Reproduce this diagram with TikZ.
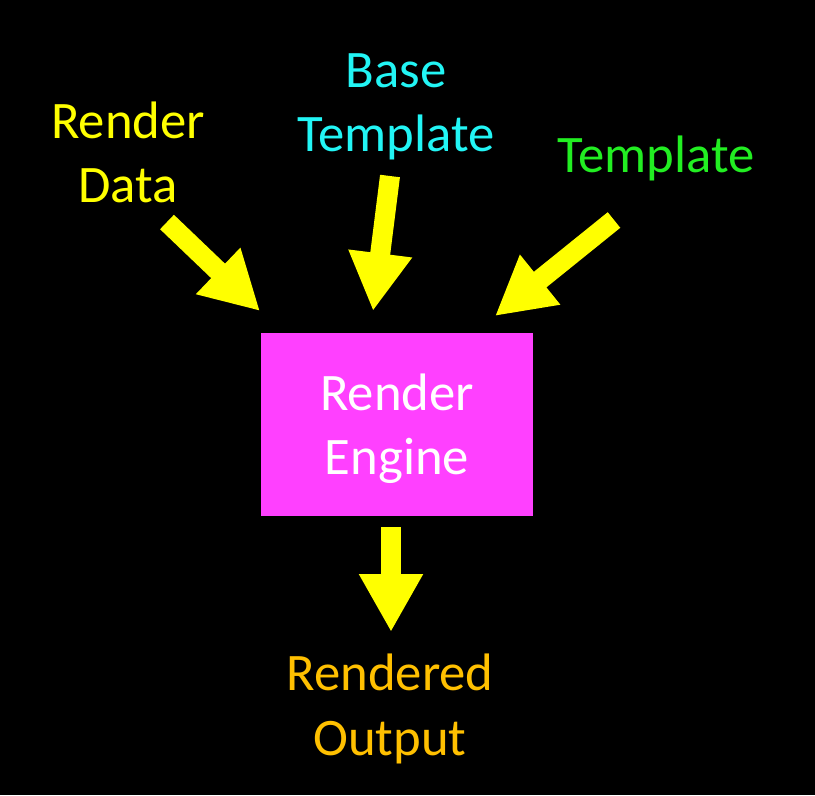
\documentclass[tikz,border=0pt]{standalone}
\usepackage{fontspec}
\setmainfont{Carlito}
\usepackage{tikz}
\usetikzlibrary{arrows.meta}
\definecolor{engine}{HTML}{FF40FF}
\definecolor{datayellow}{HTML}{FFFF00}
\definecolor{basecyan}{HTML}{22F5F5}
\definecolor{tplgreen}{HTML}{22EE22}
\definecolor{outorange}{HTML}{FFC000}

\begin{document}
\begin{tikzpicture}[x=0.02cm,y=-0.02cm,font=\fontsize{30}{36.5}\selectfont,
  label/.style={align=center,inner sep=0pt},
  bigarrow/.style={datayellow,line width=0.4cm,-{Triangle[width=1.2cm,length=1.16cm]}}]
\fill[black] (0,0) rectangle (815,795);
\useasboundingbox (0,0) rectangle (815,795);
\node [fill=engine,minimum width=272*0.02cm,minimum height=183*0.02cm,text=white,align=center,text depth=0pt] (engine) at (397,424.5) {Render\\Engine};
\node [label,text=datayellow] (data) at (128,152) {Render\\Data};
\node [label,text=basecyan] (base) at (396,107) {Base\\Template};
\node [label,text=tplgreen] (tpl) at (656,158) {Template};
\node [label,text=outorange] (out) at (390,709) {Rendered\\Output};
% arrow ends
\foreach \name/\x/\y in {dataA/167/222,dataB/260/311,baseA/390/176,baseB/373/311,tplA/614/220,tplB/495/316,outA/391/527,outB/391/632}
  \coordinate (\name) at (\x,\y);
\draw [bigarrow] (dataA) -- (dataB);
\draw [bigarrow] (baseA) -- (baseB);
\draw [bigarrow] (tplA) -- (tplB);
\draw [bigarrow] (outA) -- (outB);
\end{tikzpicture}
\end{document}
